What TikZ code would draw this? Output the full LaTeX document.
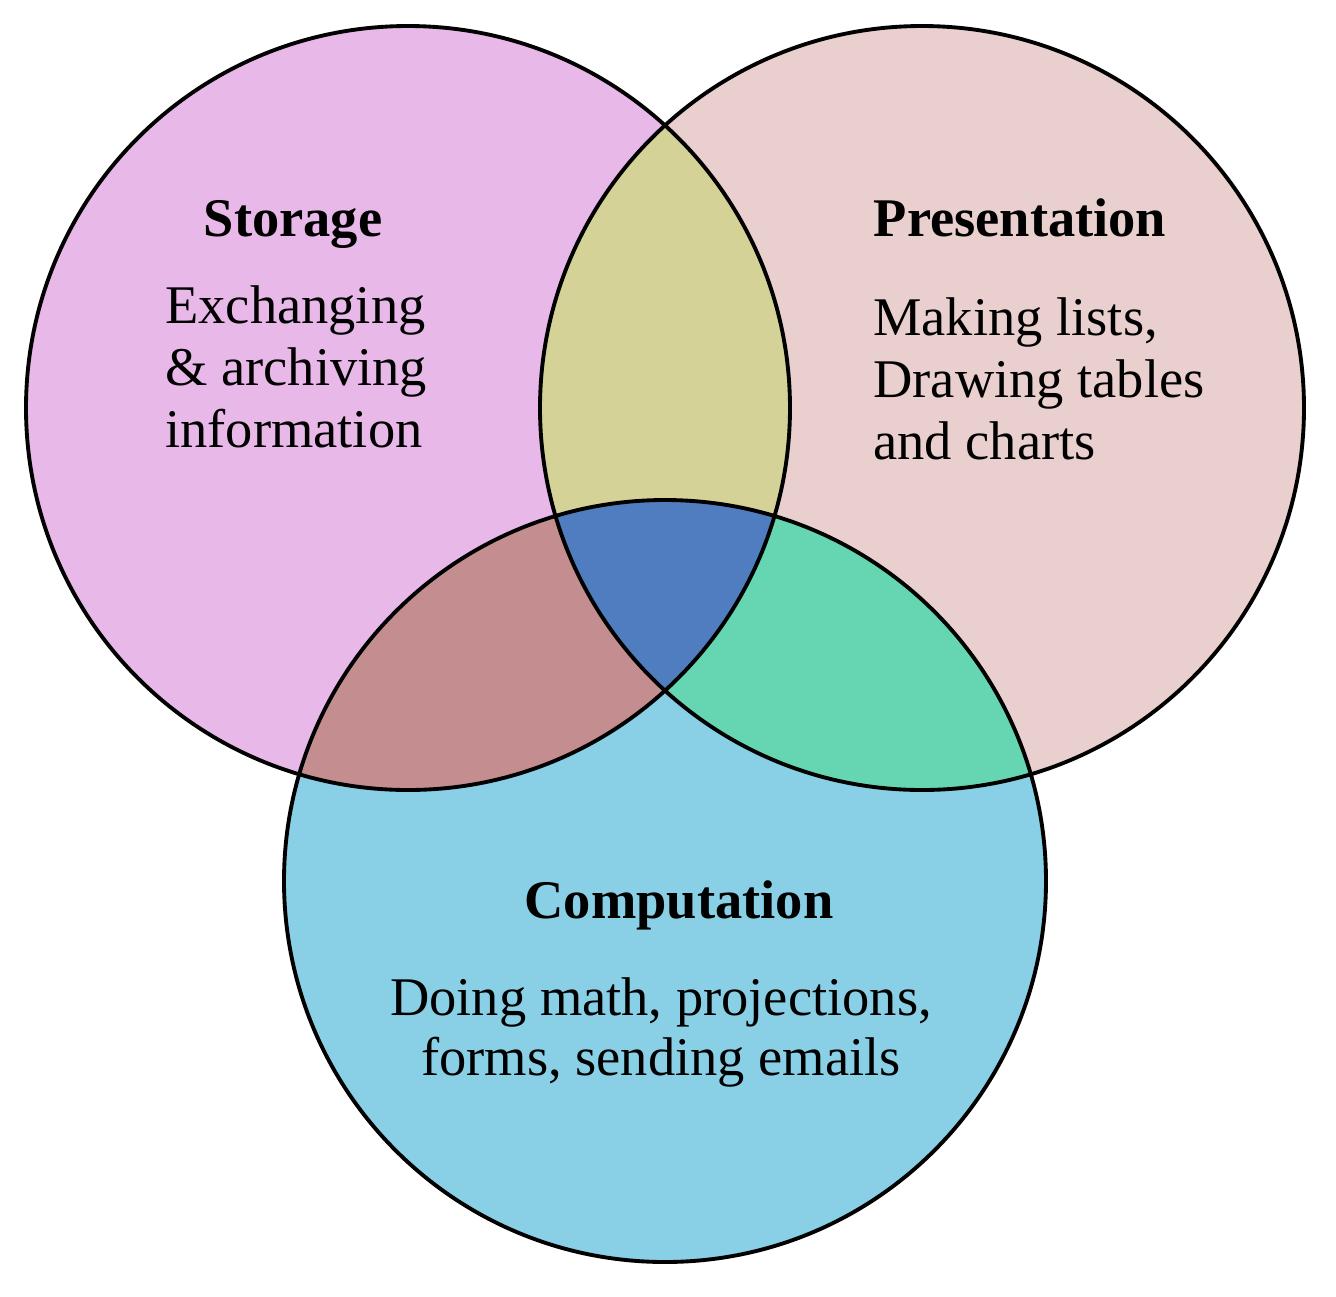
\documentclass[tikz,border=0pt]{standalone}
\usepackage{fontspec}
\setmainfont{Liberation Serif}
\usepackage{tikz}
\usetikzlibrary{positioning}

\definecolor{storagecol}{HTML}{E8B8E8}
\definecolor{presentcol}{HTML}{EACFCF}
\definecolor{computecol}{HTML}{89CFE6}
\definecolor{spcol}{HTML}{D4D296}
\definecolor{sccol}{HTML}{C48E90}
\definecolor{pccol}{HTML}{66D6B2}
\definecolor{allcol}{HTML}{4F7DBF}

\tikzset{
  ring/.style={draw=black,line width=2.2pt},
  settitle/.style={font=\fontsize{31}{35}\selectfont\bfseries,anchor=base,inner sep=0pt},
  setline/.style={font=\fontsize{31}{35}\selectfont,anchor=base west,inner sep=0pt},
  setmid/.style={font=\fontsize{31}{35}\selectfont,anchor=base,inner sep=0pt}
}

\begin{document}
\begin{tikzpicture}[x=0.02cm,y=-0.02cm]
\useasboundingbox (0,0) rectangle (1336,1296);
\coordinate (S) at (408,408);
\coordinate (P) at (922,408);
\coordinate (C) at (665,881);
\fill[storagecol] (S) circle (382);
\fill[presentcol] (P) circle (382);
\fill[computecol] (C) circle (381);
%%%%%%%%%%%%%%%%%%%%%%%%%%%%%%%%%
\begin{scope}
\clip (S) circle (382);
\fill[spcol] (P) circle (382);
\fill[sccol] (C) circle (381);
\end{scope}
\begin{scope}
\clip (P) circle (382);
\fill[pccol] (C) circle (381);
\end{scope}
\begin{scope}
\clip (S) circle (382);
\clip (P) circle (382);
\fill[allcol] (C) circle (381);
\end{scope}
%%%%%%%%%%%%%%%%%%%%%%%%%%%%%%%%%
\draw[ring] (S) circle (382);
\draw[ring] (P) circle (382);
\draw[ring] (C) circle (381);
%%%%%%%%%%%%%%%%%%%%%%%%%%%%%%%%%
\node[settitle] (storage) at (293,236) {Storage};
\node[setline] (st1) at (165,323) {Exchanging};
\node[setline] (st2) at (165,385) {\& archiving};
\node[setline] (st3) at (165,447) {information};
%%%%%%%%%%%%%%%%%%%%%%%%%%%%%%%%%
\node[settitle] (presentation) at (1020,236) {Presentation};
\node[setline] (pr1) at (873,335) {Making lists,};
\node[setline] (pr2) at (873,397) {Drawing tables};
\node[setline] (pr3) at (873,459) {and charts};
%%%%%%%%%%%%%%%%%%%%%%%%%%%%%%%%%
\node[settitle] (computation) at (679,918) {Computation};
\node[setmid] (co1) at (661,1015) {Doing math, projections,};
\node[setmid] (co2) at (661,1075) {forms, sending emails};
\end{tikzpicture}
\end{document}
